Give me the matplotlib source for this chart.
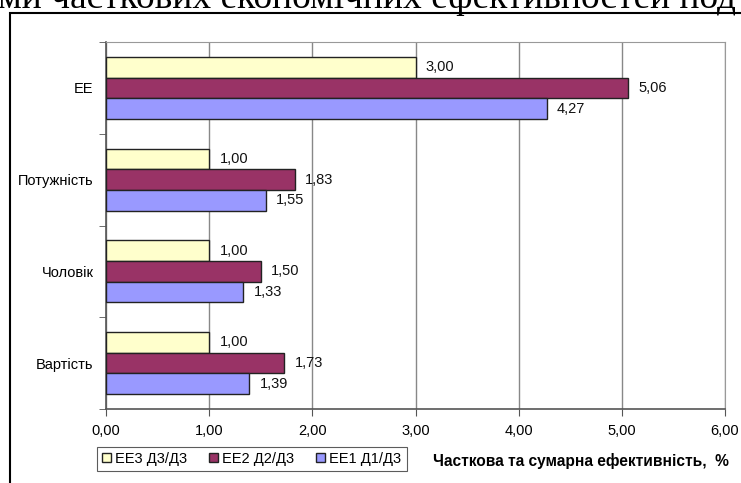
import matplotlib
matplotlib.use("Agg")
import matplotlib.pyplot as plt
from matplotlib.patches import Rectangle
import numpy as np

categories = ["ЕЕ", "Потужність", "Чоловік", "Вартість"]
series_names = ["ЕЕ3 Д3/Д3", "ЕЕ2 Д2/Д3", "ЕЕ1 Д1/Д3"]
ee3 = [3.00, 1.00, 1.00, 1.00]
ee2 = [5.06, 1.83, 1.50, 1.73]
ee1 = [4.27, 1.55, 1.33, 1.39]
xticks = [0, 1, 2, 3, 4, 5, 6]

colors = ["#FFFFCC", "#993366", "#9999FF"]
plt.rcParams["font.family"] = ["Liberation Sans", "DejaVu Sans"]

W, H = 741, 483
fig = plt.figure(figsize=(W / 100, H / 100), dpi=100)

# outer frame of the embedded chart (cut off at right/bottom)
fig.patches.append(Rectangle((10 / W, -0.1), 1.2, 1 - 13 / H + 0.1,
                             transform=fig.transFigure, fill=False,
                             edgecolor="black", linewidth=1.5))
# caption line of the page above the chart, mostly cut off
fig.text(-2 / W, 1 - 8 / H, "ми часткових економічних ефективностей под",
         family="Liberation Serif", fontsize=27, va="baseline", ha="left")

ax = fig.add_axes([106 / W, 1 - 409 / H, (725 - 106) / W, (409 - 42) / H])

ypos = np.arange(len(categories))[::-1]
h = 0.225
series = [ee3, ee2, ee1]
offsets = [h, 0, -h]
for vals, off, col, name in zip(series, offsets, colors, series_names):
    bars = ax.barh(ypos + off, vals, height=h, color=col, edgecolor="#222222",
                   linewidth=1, label=name, zorder=3)
    for b, v in zip(bars, vals):
        ax.text(v + 0.1, b.get_y() + b.get_height() / 2, f"{v:.2f}".replace(".", ","),
                va="center", ha="left", fontsize=10.5, color="#111111")

ax.set_xlim(0, 6)
ax.set_ylim(-0.5, len(categories) - 0.5)
ax.set_xticks(xticks)
ax.set_xticklabels([f"{x:.2f}".replace(".", ",") for x in xticks], fontsize=10.5)
ax.set_yticks(ypos)
ax.set_yticklabels(categories, fontsize=10.5)
ax.set_yticks(np.arange(len(categories) + 1) - 0.5, minor=True)
ax.tick_params(axis="y", which="major", length=0, pad=9)
ax.tick_params(axis="y", which="minor", length=5, color="#555555")
ax.tick_params(axis="x", length=5, color="#555555", pad=6)

ax.grid(axis="x", color="#888888", linewidth=1, zorder=0)
for s in ["top", "right"]:
    ax.spines[s].set_color("#999999")
for s in ["left", "bottom"]:
    ax.spines[s].set_color("#555555")
    ax.spines[s].set_linewidth(1.2)

leg = fig.legend(loc="center left", bbox_to_anchor=(97 / W, 1 - 459 / H), ncol=3,
                 fontsize=10.5, frameon=True, fancybox=False, handlelength=0.6,
                 handleheight=0.6, handletextpad=0.3, columnspacing=1.5,
                 borderpad=0.35, borderaxespad=0)
leg.get_frame().set_edgecolor("#333333")
leg.get_frame().set_linewidth(0.8)

fig.text(433 / W, 1 - 461 / H, "Часткова та сумарна ефективність,  %",
         fontsize=11.2, fontweight="bold", va="center", ha="left")

fig.savefig("out.png", dpi=100)
